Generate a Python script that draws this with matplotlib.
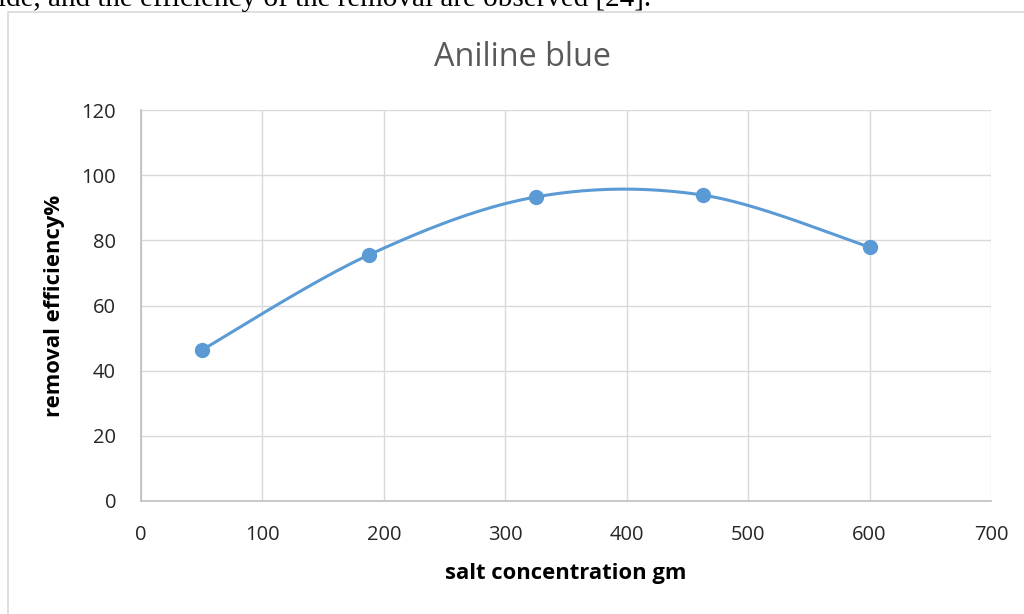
import numpy as np
import matplotlib.pyplot as plt
from matplotlib.patches import Rectangle

# data
salt_conc = [50, 187.5, 325, 462.5, 600]
removal_eff = [46.3, 75.5, 93.3, 93.9, 77.9]
x_ticks = [0, 100, 200, 300, 400, 500, 600, 700]
y_ticks = [0, 20, 40, 60, 80, 100, 120]


def smooth_curve(xs, ys, n=40):
    # Excel style smoothed line: Catmull-Rom through the points
    xs = np.asarray(xs, float)
    ys = np.asarray(ys, float)
    px = np.concatenate([[xs[0]], xs, [xs[-1]]])
    py = np.concatenate([[ys[0]], ys, [ys[-1]]])
    out_x, out_y = [], []
    t = np.linspace(0, 1, n)
    for i in range(1, len(px) - 2):
        p0, p1, p2, p3 = [np.array([px[j], py[j]]) for j in (i - 1, i, i + 1, i + 2)]
        c1 = p1 + (p2 - p0) / 6
        c2 = p2 - (p3 - p1) / 6
        b = ((1 - t) ** 3)[:, None] * p1 + (3 * (1 - t) ** 2 * t)[:, None] * c1 \
            + (3 * (1 - t) * t ** 2)[:, None] * c2 + (t ** 3)[:, None] * p2
        out_x.extend(b[:, 0])
        out_y.extend(b[:, 1])
    return out_x, out_y


plt.rcParams['font.family'] = ['Open Sans', 'DejaVu Sans']

fig = plt.figure(figsize=(10.24, 6.14), dpi=100)
W, H = 1024, 614

# chart frame and the text line cut above it
fig.patches.append(Rectangle((8 / W, -0.1), 1.2, 1 - 12 / H + 0.1, transform=fig.transFigure,
                             fill=False, edgecolor='#d9d9d9', linewidth=1.2))
fig.text(-2 / W, 1 - 6 / H, 'ide, and the efficiency of the removal are observed [24].',
         family='Liberation Serif', fontsize=21, va='baseline', ha='left', color='black')

ax = fig.add_axes([141 / W, 1 - 501 / H, 850 / W, 391 / H])

sx, sy = smooth_curve(salt_conc, removal_eff)
ax.plot(sx, sy, color='#5B9BD5', linewidth=2.2, zorder=3)
ax.plot(salt_conc, removal_eff, 'o', color='#5B9BD5', markersize=10, zorder=4)

ax.set_xlim(0, 700)
ax.set_ylim(0, 120)
ax.set_xticks(x_ticks)
ax.set_yticks(y_ticks)
ax.grid(True, color='#d9d9d9', linewidth=1)
ax.set_axisbelow(True)
for side in ['top', 'right']:
    ax.spines[side].set_visible(False)
for side in ['left', 'bottom']:
    ax.spines[side].set_color('#bfbfbf')
    ax.spines[side].set_linewidth(1.2)
ax.tick_params(length=0, labelsize=14.5, labelcolor='#262626')
ax.tick_params(axis='x', pad=17)
ax.tick_params(axis='y', pad=18)

# title is centred on the chart frame, not on the plot area
fig.text(523 / W, 1 - 57 / H, 'Aniline blue', fontsize=23.3, color='#595959',
         ha='center', va='center')
ax.set_xlabel('salt concentration gm', fontsize=15.8, fontweight='bold', labelpad=13)
ax.set_ylabel('removal efficiency%', fontsize=15.8, fontweight='bold', labelpad=12)

plt.savefig('out.png', dpi=100)
